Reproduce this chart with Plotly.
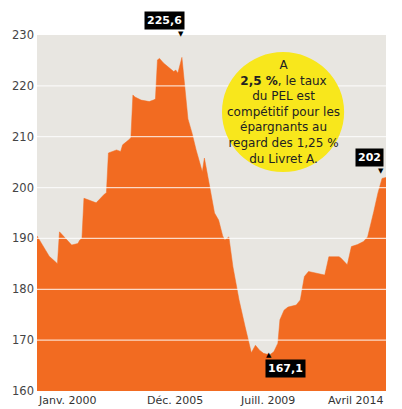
import plotly.graph_objects as go

# ---- data ----
dates = [
    "2000-01-01", "2000-05-01", "2000-07-01", "2000-10-01", "2000-11-01", "2000-12-01",
    "2001-06-01", "2001-09-01", "2001-10-01", "2001-11-01", "2001-12-01",
    "2002-02-01", "2002-06-01", "2002-10-01", "2002-11-01", "2002-12-01",
    "2003-04-01", "2003-06-01", "2003-07-01", "2003-10-01", "2003-11-01", "2003-12-01",
    "2004-01-01", "2004-04-01", "2004-08-01", "2004-10-01", "2004-11-01", "2004-12-01",
    "2005-01-01", "2005-03-01", "2005-06-01", "2005-08-01", "2005-09-01", "2005-10-01",
    "2005-12-01",
    "2006-02-01", "2006-03-01", "2006-05-01", "2006-07-01", "2006-10-01", "2006-11-01",
    "2007-01-01", "2007-04-01", "2007-06-01", "2007-08-01", "2007-09-01", "2007-11-01",
    "2008-01-01", "2008-04-01", "2008-07-01", "2008-10-01", "2008-12-01",
    "2009-02-01", "2009-04-01", "2009-07-01", "2009-09-01", "2009-11-01", "2009-12-01",
    "2010-02-01", "2010-04-01", "2010-08-01", "2010-10-01", "2010-12-01",
    "2011-02-01", "2011-07-01", "2011-10-01", "2011-12-01",
    "2012-05-01", "2012-06-01", "2012-09-01", "2012-11-01",
    "2013-02-01", "2013-05-01", "2013-07-01", "2013-10-01", "2013-12-01",
    "2014-02-01", "2014-04-01",
]
values = [
    190.5, 188.0, 186.5, 185.4, 185.0, 191.3,
    188.7, 189.0, 189.7, 190.0, 197.9,
    197.6, 197.0, 198.7, 199.0, 206.8,
    207.4, 207.1, 208.4, 209.4, 209.8, 218.2,
    217.8, 217.2, 216.9, 217.2, 217.4, 225.1,
    225.4, 224.5, 223.5, 222.8, 223.1, 222.5,
    225.6,
    217.2, 213.5, 210.7, 207.4, 203.1, 205.8,
    201.5, 195.0, 193.6, 190.5, 189.7, 190.3,
    184.4, 177.9, 172.6, 167.5, 169.0,
    168.0, 167.4, 167.1, 167.7, 169.4, 174.0,
    175.9, 176.5, 176.9, 177.9, 182.5,
    183.5, 183.1, 182.8, 186.4,
    186.4, 186.1, 184.8, 188.4,
    188.8, 189.4, 190.3, 195.3, 198.9,
    201.8, 202.0,
]

y_ticks = [160, 170, 180, 190, 200, 210, 220, 230]
x_label_dates = ["2000-01-01", "2005-12-01", "2009-07-01", "2014-04-01"]
x_label_texts = ["Janv. 2000", "Déc. 2005", "Juill. 2009", "Avril 2014"]

peak_date, peak_val, peak_txt = "2005-12-01", 225.6, "225,6"
min_date, min_val, min_txt = "2009-07-01", 167.1, "167,1"
last_date, last_val, last_txt = "2014-04-01", 202.0, "202"

bubble_text = ("A<br><b>2,5 %</b>, le taux<br>du PEL est<br>compétitif pour les"
               "<br>épargnants au<br>regard des 1,25 %<br>du Livret A.")

ORANGE = "#f26b21"
BG = "#e8e6e1"
FONT = "DejaVu Sans"

fig = go.Figure()
fig.add_trace(go.Scatter(
    x=dates, y=values, mode="lines", fill="tozeroy",
    line=dict(color=ORANGE, width=0.5), fillcolor=ORANGE,
    hoverinfo="skip", showlegend=False,
))

# gridlines drawn above the area
for t in y_ticks[1:-1]:
    fig.add_shape(type="line", xref="paper", x0=0, x1=1, yref="y", y0=t, y1=t,
                  line=dict(color="rgba(255,255,255,0.75)", width=1.3), layer="above")

# yellow bubble
fig.add_shape(type="circle", xref="paper", yref="paper",
              x0=0.530, x1=0.880, y0=0.615, y1=0.952,
              fillcolor="#f8e71c", line=dict(width=0), layer="above")
fig.add_annotation(xref="paper", yref="paper", x=0.705, y=0.783,
                   xanchor="center", yanchor="middle",
                   text=bubble_text, showarrow=False, align="center",
                   font=dict(family=FONT, size=12, color="#222222"))

# x labels
anchors = ["left", "center", "center", "right"]
shifts = [-1, -7, -2, 0]
for d, txt, a, s in zip(x_label_dates, x_label_texts, anchors, shifts):
    fig.add_annotation(x=d, xref="x", y=0, yref="paper", yanchor="top", xanchor=a,
                       xshift=s, yshift=-1, text=txt, showarrow=False,
                       font=dict(family=FONT, size=11, color="#333333"))

# value labels
lab_font = dict(family=FONT, size=11, color="white")
fig.add_annotation(x=peak_date, xref="x", y=1, yref="paper", xanchor="right",
                   yanchor="bottom", xshift=3, yshift=5, text="<b>%s</b>" % peak_txt,
                   showarrow=False, bgcolor="black", borderpad=2, font=lab_font)
fig.add_annotation(x=peak_date, xref="x", y=1, yref="paper", xanchor="center",
                   yanchor="top", xshift=-1, yshift=7, text="▼", showarrow=False,
                   font=dict(family=FONT, size=7, color="black"))

fig.add_annotation(x=last_date, xref="x", y=last_val, yref="y", xanchor="right",
                   yanchor="bottom", xshift=-2, yshift=10, text="<b>%s</b>" % last_txt,
                   showarrow=False, bgcolor="black", borderpad=2, font=lab_font)
fig.add_annotation(x=last_date, xref="x", y=last_val, yref="y", xanchor="center",
                   yanchor="top", xshift=-5, yshift=12, text="▼", showarrow=False,
                   font=dict(family=FONT, size=7, color="black"))

fig.add_annotation(x=min_date, xref="x", y=min_val, yref="y", xanchor="left",
                   yanchor="top", xshift=-5, yshift=-4, text="<b>%s</b>" % min_txt,
                   showarrow=False, bgcolor="black", borderpad=2, font=lab_font)
fig.add_annotation(x=min_date, xref="x", y=min_val, yref="y", xanchor="center",
                   yanchor="bottom", xshift=-1, yshift=-6, text="▲", showarrow=False,
                   font=dict(family=FONT, size=7, color="black"))

fig.update_layout(
    width=402, height=409,
    margin=dict(l=37, r=16, t=35, b=18),
    paper_bgcolor="white", plot_bgcolor=BG,
    showlegend=False,
    xaxis=dict(type="date", range=[dates[0], dates[-1]], showgrid=False,
               showticklabels=False, zeroline=False, showline=False, fixedrange=True),
    yaxis=dict(range=[160, 230], tickvals=y_ticks, ticktext=[str(v) for v in y_ticks],
               showgrid=False, zeroline=False, showline=False, ticks="",
               ticklabelstandoff=2,
               tickfont=dict(family=FONT, size=11.5, color="#444444"), fixedrange=True),
)

fig.write_html(
    "out.html",
    config={"displayModeBar": False},
    post_script="document.body.style.margin='0';"
                "document.documentElement.style.overflow='hidden';",
)
